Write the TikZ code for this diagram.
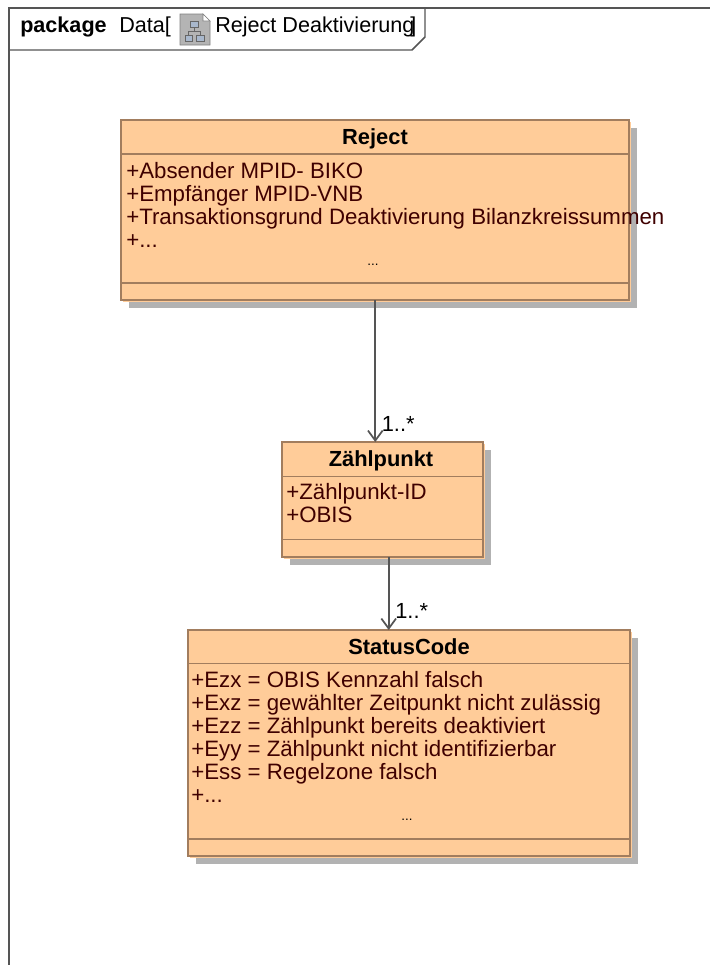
\documentclass[tikz,border=0pt]{standalone}
\usepackage{fontspec}
\setmainfont{Liberation Sans}
\usetikzlibrary{shadows}
\usetikzlibrary{arrows.meta}

\definecolor{boxfill}{HTML}{FFCC99}
\definecolor{boxline}{HTML}{A27D5E}
\definecolor{shadowgray}{HTML}{B2B2B2}
\definecolor{attrtext}{HTML}{3F0000}
\definecolor{frameline}{HTML}{555555}
\definecolor{iconfill}{HTML}{B4B4B4}
\definecolor{iconbox}{HTML}{A9B8CC}

\tikzset{
  classbox/.style={draw=boxline, line width=1.5pt, fill=boxfill, rectangle, anchor=north west, inner sep=0pt,
    general shadow={fill=shadowgray, opacity=1, shadow xshift=6pt, shadow yshift=-6pt},
    general shadow={fill=boxfill, opacity=1, shadow xshift=1.5pt, shadow yshift=-1.5pt}},
  divider/.style={draw=boxline, line width=1.1pt},
  classname/.style={font=\bfseries\fontsize{16.4}{19}\selectfont, anchor=base, inner sep=0pt},
  attr/.style={font=\fontsize{16.7}{19}\selectfont, text=attrtext, anchor=base west, inner sep=0pt},
  dots/.style={font=\fontsize{10}{12}\selectfont, text=black, inner sep=0pt},
  assoc/.style={draw=frameline, line width=1.4pt, -{Straight Barb[length=7.5pt, width=11pt, line width=1.3pt]}},
  mult/.style={font=\fontsize{16.4}{19}\selectfont, anchor=base west, inner sep=0pt},
  frametext/.style={font=\fontsize{16.2}{19}\selectfont, anchor=base west, inner sep=0pt},
  iconpart/.style={draw=black!60, line width=0.6pt, fill=iconbox}
}

\begin{document}
\begin{tikzpicture}[x=0.75pt, y=-0.75pt]
\useasboundingbox (0, 0) rectangle (710, 965);

% frame
\coordinate (frametop) at (710, 8);
\coordinate (framecorner) at (9, 8);
\coordinate (framebottom) at (9, 965);
\draw [frameline, line width=1.1pt] (frametop) -- (framecorner) -- (framebottom);
\draw [frameline, line width=1.1pt] (425, 8) -- (425, 37) -- (412, 50) -- (9, 50);
\node [frametext] (kind) at (20, 32) {\bfseries package};
\node [frametext] (dataname) at (119, 32) {Data[};
\node [frametext] (diagname) at (215, 32) {Reject Deaktivierung};
\node [frametext] (bracket) at (410, 32) {]};

% icon
\fill [iconfill, draw=gray, line width=0.5pt] (180, 14) -- (203, 14) -- (210, 21) -- (210, 45) -- (180, 45) -- cycle;
\fill [white, draw=gray, line width=0.5pt] (203, 14) -- (210, 21) -- (203, 21) -- cycle;
\draw [iconpart] (190, 21) rectangle (198, 27);
\draw [iconpart] (185, 35) rectangle (192, 41);
\draw [iconpart] (196, 35) rectangle (204, 41);
\draw [black!60, line width=0.6pt] (194, 27) -- (194, 31) (188.5, 35) -- (188.5, 31) -- (200, 31) -- (200, 35);

% Reject
\node [classbox, minimum width=381pt, minimum height=135pt] (reject) at (119.7, 118.7) {};
\node [classname] (rejectname) at (375, 144) {Reject};
\draw [divider] (120.5, 154) -- (628.5, 154);
\node [attr] (rejectattra) at (126, 178) {+Absender MPID- BIKO};
\node [attr] (rejectattrb) at (126, 201) {+Empfänger MPID-VNB};
\node [attr] (rejectattrc) at (126, 224) {+Transaktionsgrund Deaktivierung Bilanzkreissummen};
\node [attr] (rejectattrd) at (126, 247) {+...};
\node [dots] (rejectdots) at (373, 265) {...};
\draw [divider] (120.5, 283) -- (628.5, 283);

% Zaehlpunkt
\node [classbox, minimum width=150.5pt, minimum height=86pt] (zaehlpunkt) at (281, 441) {};
\node [classname] (zaehlname) at (381, 466) {Zählpunkt};
\draw [divider] (282, 476.5) -- (482.5, 476.5);
\node [attr] (zaehlattra) at (286, 499.5) {+Zählpunkt-ID};
\node [attr] (zaehlattrb) at (286, 522.5) {+OBIS};
\draw [divider] (282, 539.5) -- (482.5, 539.5);

% StatusCode
\node [classbox, minimum width=331.5pt, minimum height=169.5pt] (statuscode) at (187, 629) {};
\node [classname] (statusname) at (409, 654) {StatusCode};
\draw [divider] (188, 663.5) -- (630, 663.5);
\node [attr] (statusattra) at (191, 687) {+Ezx = OBIS Kennzahl falsch};
\node [attr] (statusattrb) at (191, 710) {+Exz = gewählter Zeitpunkt nicht zulässig};
\node [attr] (statusattrc) at (191, 733) {+Ezz = Zählpunkt bereits deaktiviert};
\node [attr] (statusattrd) at (191, 756) {+Eyy = Zählpunkt nicht identifizierbar};
\node [attr] (statusattre) at (191, 779) {+Ess = Regelzone falsch};
\node [attr] (statusattrf) at (191, 802) {+...};
\node [dots] (statusdots) at (407, 820) {...};
\draw [divider] (188, 839) -- (630, 839);

% associations
\coordinate (rejectout) at (375.3, 300);
\coordinate (zaehlin) at (375.3, 442);
\coordinate (zaehlout) at (388.7, 557);
\coordinate (statusin) at (388.7, 630);
\draw [assoc] (rejectout) -- (zaehlin);
\draw [assoc] (zaehlout) -- (statusin);
\node [mult] (multa) at (381.5, 431) {1..*};
\node [mult] (multb) at (395, 618.5) {1..*};
\end{tikzpicture}
\end{document}
